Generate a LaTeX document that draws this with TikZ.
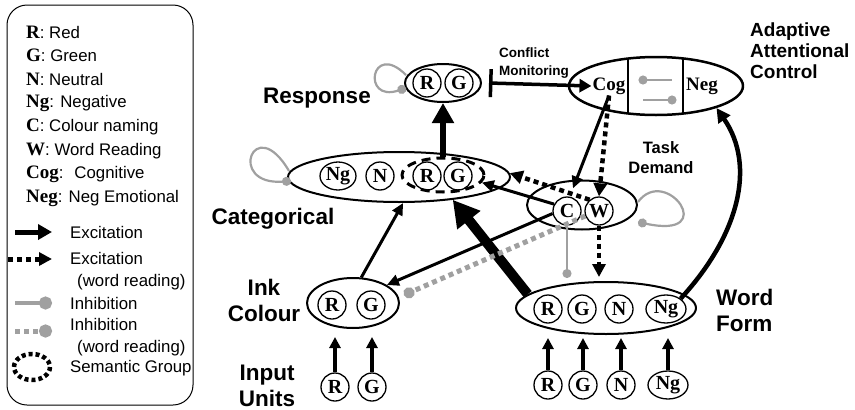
\documentclass[tikz,border=0pt]{standalone}
\usepackage{fontspec}
\setmainfont{Liberation Sans}
\newfontfamily\tnr{Liberation Serif}
\usetikzlibrary{shapes.geometric,arrows.meta,calc}
\definecolor{inhgray}{RGB}{160,160,160}

\begin{document}
\begin{tikzpicture}[x=1pt,y=-1pt,line join=round,
	unit/.style={circle,draw,line width=1.3pt,inner sep=0pt,minimum size=28pt,font=\tnr\bfseries\fontsize{20}{20}\selectfont},
	ngunit/.style={unit,ellipse,minimum width=40pt,minimum height=28pt},
	layer/.style={ellipse,draw,line width=2pt,inner sep=0pt},
	lab/.style={font=\bfseries\fontsize{22.5}{26}\selectfont,align=center,inner sep=0pt},
	exc/.style={line width=3pt,-{Triangle[length=12pt,width=11pt]}},
	excw/.style={line width=4.5pt,dash pattern=on 5pt off 4pt,-{Triangle[length=13pt,width=13pt]}},
	inarr/.style={line width=4pt,-{Triangle[length=11pt,width=11pt]}},
	inh/.style={draw=inhgray,line width=2pt,-{Circle[length=9pt]}},
	inhw/.style={draw=inhgray,line width=5pt,dash pattern=on 5pt off 4pt,-{Circle[length=11pt]}},
	selfloop/.style={draw=inhgray,line width=2.2pt,-{Circle[length=9pt]}},
	legtxt/.style={anchor=west,font=\fontsize{16.8}{22}\selectfont,align=left,inner sep=0pt}]
	\useasboundingbox (0,0) rectangle (855,410);
	% legend
	\draw[line width=1pt,rounded corners=20pt] (7,5) rectangle (193,405);
	\node[legtxt] (kR) at (26,32) {{\tnr\bfseries\fontsize{19}{22}\selectfont R}: Red};
	\node[legtxt] (kG) at (26,55.8) {{\tnr\bfseries\fontsize{19}{22}\selectfont G}: Green};
	\node[legtxt] (kN) at (26,79.6) {{\tnr\bfseries\fontsize{19}{22}\selectfont N}: Neutral};
	\node[legtxt] (kNg) at (26,103.4) {{\tnr\bfseries\fontsize{19}{22}\selectfont Ng}: Negative};
	\node[legtxt] (kC) at (26,127.2) {{\tnr\bfseries\fontsize{19}{22}\selectfont C}: Colour naming};
	\node[legtxt] (kW) at (26,151) {{\tnr\bfseries\fontsize{19}{22}\selectfont W}: Word Reading};
	\node[legtxt] (kCog) at (26,174.8) {{\tnr\bfseries\fontsize{19}{22}\selectfont Cog}:~ Cognitive};
	\node[legtxt] (kNeg) at (26,198.6) {{\tnr\bfseries\fontsize{19}{22}\selectfont Neg}: Neg Emotional};
	\draw[line width=5pt,-{Triangle[length=14pt,width=15pt]}] (15,232) -- (52,232);
	\draw[excw,line width=5pt] (8,259) -- (52,259);
	\draw[inh,line width=4pt,-{Circle[length=13pt]}] (15,303) -- (52,303);
	\draw[inhw,-{Circle[length=13pt]}] (15,331) -- (52,331);
	\draw[line width=4.5pt,dash pattern=on 4pt off 3pt] (32,367) ellipse (18 and 13);
	\node[legtxt] (kexc) at (70,232) {Excitation};
	\node[legtxt] (kexcw) at (70,271) {Excitation\\\hspace*{7pt}(word reading)};
	\node[legtxt] (kinh) at (70,303) {Inhibition};
	\node[legtxt] (kinhw) at (70,337) {Inhibition\\\hspace*{7pt}(word reading)};
	\node[legtxt] (ksem) at (70,368) {Semantic Group};

	% layers and units
	\node[layer,minimum width=76pt,minimum height=38pt] (res) at (443,83) {};
	\node[unit] (resR) at (427,83) {R};
	\node[unit] (resG) at (459,83) {G};
	\node[layer,minimum width=222pt,minimum height=50pt] (cat) at (399,177) {};
	\node[unit,ellipse,minimum width=36pt] (catNg) at (338,176) {Ng};
	\node[unit] (catN) at (380,176) {N};
	\node[unit] (catR) at (427,176) {R};
	\node[unit] (catG) at (458,176) {G};
	\node[ellipse,draw,line width=3pt,dash pattern=on 9pt off 6pt,minimum width=82pt,minimum height=34pt,inner sep=0pt] (sem) at (443,175) {};
	\node[layer,minimum width=110pt,minimum height=49pt] (task) at (582,205) {};
	\node[unit] (taskC) at (567,211) {C};
	\node[unit] (taskW) at (599,211) {W};
	\node[layer,line width=2.5pt,minimum width=174pt,minimum height=58pt] (aac) at (656,86) {};
	\node[font=\tnr\bfseries\fontsize{19}{19}\selectfont,inner sep=1pt] (cog) at (609,86) {Cog};
	\node[font=\tnr\bfseries\fontsize{19}{19}\selectfont,inner sep=1pt] (neg) at (702,86) {Neg};
	\begin{scope}
		\clip (aac.center) ellipse (87 and 29);
		\draw[line width=2.5pt] (628,50) -- (628,120) (683,50) -- (683,120);
	\end{scope}
	\draw[inh] (672,80) -- (638.5,80);
	\draw[inh] (643,100) -- (676.5,100);
	\node[layer,minimum width=92pt,minimum height=50pt] (ink) at (353,303) {};
	\node[unit] (inkR) at (332,305) {R};
	\node[unit] (inkG) at (371,305) {G};
	\node[unit] (inR) at (335,387) {R};
	\node[unit] (inG) at (372,387) {G};
	\node[layer,minimum width=180pt,minimum height=52pt] (wf) at (606,308) {};
	\node[unit] (wfR) at (548,309) {R};
	\node[unit] (wfG) at (582,309) {G};
	\node[unit] (wfN) at (619,309) {N};
	\node[ngunit] (wfNg) at (666,309) {Ng};
	\node[unit] (iwR) at (548,385) {R};
	\node[unit] (iwG) at (583,385) {G};
	\node[unit] (iwN) at (621,385) {N};
	\node[ngunit] (iwNg) at (668,385) {Ng};

	% labels
	\node[lab] (lres) at (317,98) {Response};
	\node[lab] (lcat) at (273,219) {Categorical};
	\node[lab] (link) at (264,300) {Ink\\Colour};
	\node[lab] (linp) at (267,386) {Input\\Units};
	\node[lab,align=left,anchor=west] (lwf) at (716,310) {Word\\Form};
	\node[font=\bfseries\fontsize{19}{21}\selectfont,align=left,anchor=west,inner sep=0pt] (laac) at (750,51) {Adaptive\\Attentional\\Control};
	\node[font=\bfseries\fontsize{16.5}{20}\selectfont,align=center,inner sep=0pt] (ltask) at (661,158) {Task\\Demand};
	\node[font=\bfseries\fontsize{13.5}{18}\selectfont,align=left,anchor=west,inner sep=0pt] (lcon) at (499,63) {Conflict\\Monitoring};

	% connections
	\draw[line width=6.5pt,-{Triangle[length=20pt,width=21pt]}] (sem.north) -- (res.south);
	\draw[line width=10pt,-{Triangle[length=26pt,width=28pt]}] (wf.170) -- (cat.-23);
	\draw[exc] (ink.72) -- (cat.-81);
	\draw[exc] (taskC.152) -- (sem.-11);
	\draw[exc] (taskC.190) -- (ink.28);
	\draw[exc] (cog.south) -- ($(taskC.north)+(6,-8)$);
	\draw[excw] (cog.south) -- (taskW.north);
	\draw[excw] (taskW.130) -- (cat.2);
	\draw[excw,shorten >=4pt] (taskW.south) -- (taskW.south |- wf.north);
	\draw[inh,shorten >=3pt] (taskC.south) -- (taskC.south |- wf.north);
	\draw[inhw] (taskW.200) -- ($(ink.east)+(4,-8)$);
	\draw[line width=3.5pt,{Bar[width=28pt]}-{Triangle[length=12pt,width=13pt]}] ($(res.east)+(7,0)$) -- (cog.west);
	\draw[line width=4.5pt,-{Triangle[length=14pt,width=14pt]}] (wfNg.north east) .. controls +(58,-63) and +(40,58) .. (aac.-20);
	\foreach \u in {inR,inG}
		\draw[inarr,shorten >=8pt] (\u.north) -- (\u.north |- ink.south);
	\foreach \u in {iwR,iwG,iwN,iwNg}
		\draw[inarr,shorten >=3pt] (\u.north) -- (\u.north |- wf.south);
	% self loops
	\draw[selfloop] ($(res.west)+(2,-8)$) .. controls +(-35,-35) and +(-45,15) .. ($(res.west)+(2,5)$);
	\draw[selfloop] ($(cat.west)+(2,-6)$) .. controls +(-35,-60) and +(-65,5) .. ($(cat.west)+(4,4)$);
	\draw[selfloop] ($(task.east)+(0,-3)$) .. controls +(28,-38) and +(83,18) .. ($(task.east)+(0,17)$);
\end{tikzpicture}
\end{document}
